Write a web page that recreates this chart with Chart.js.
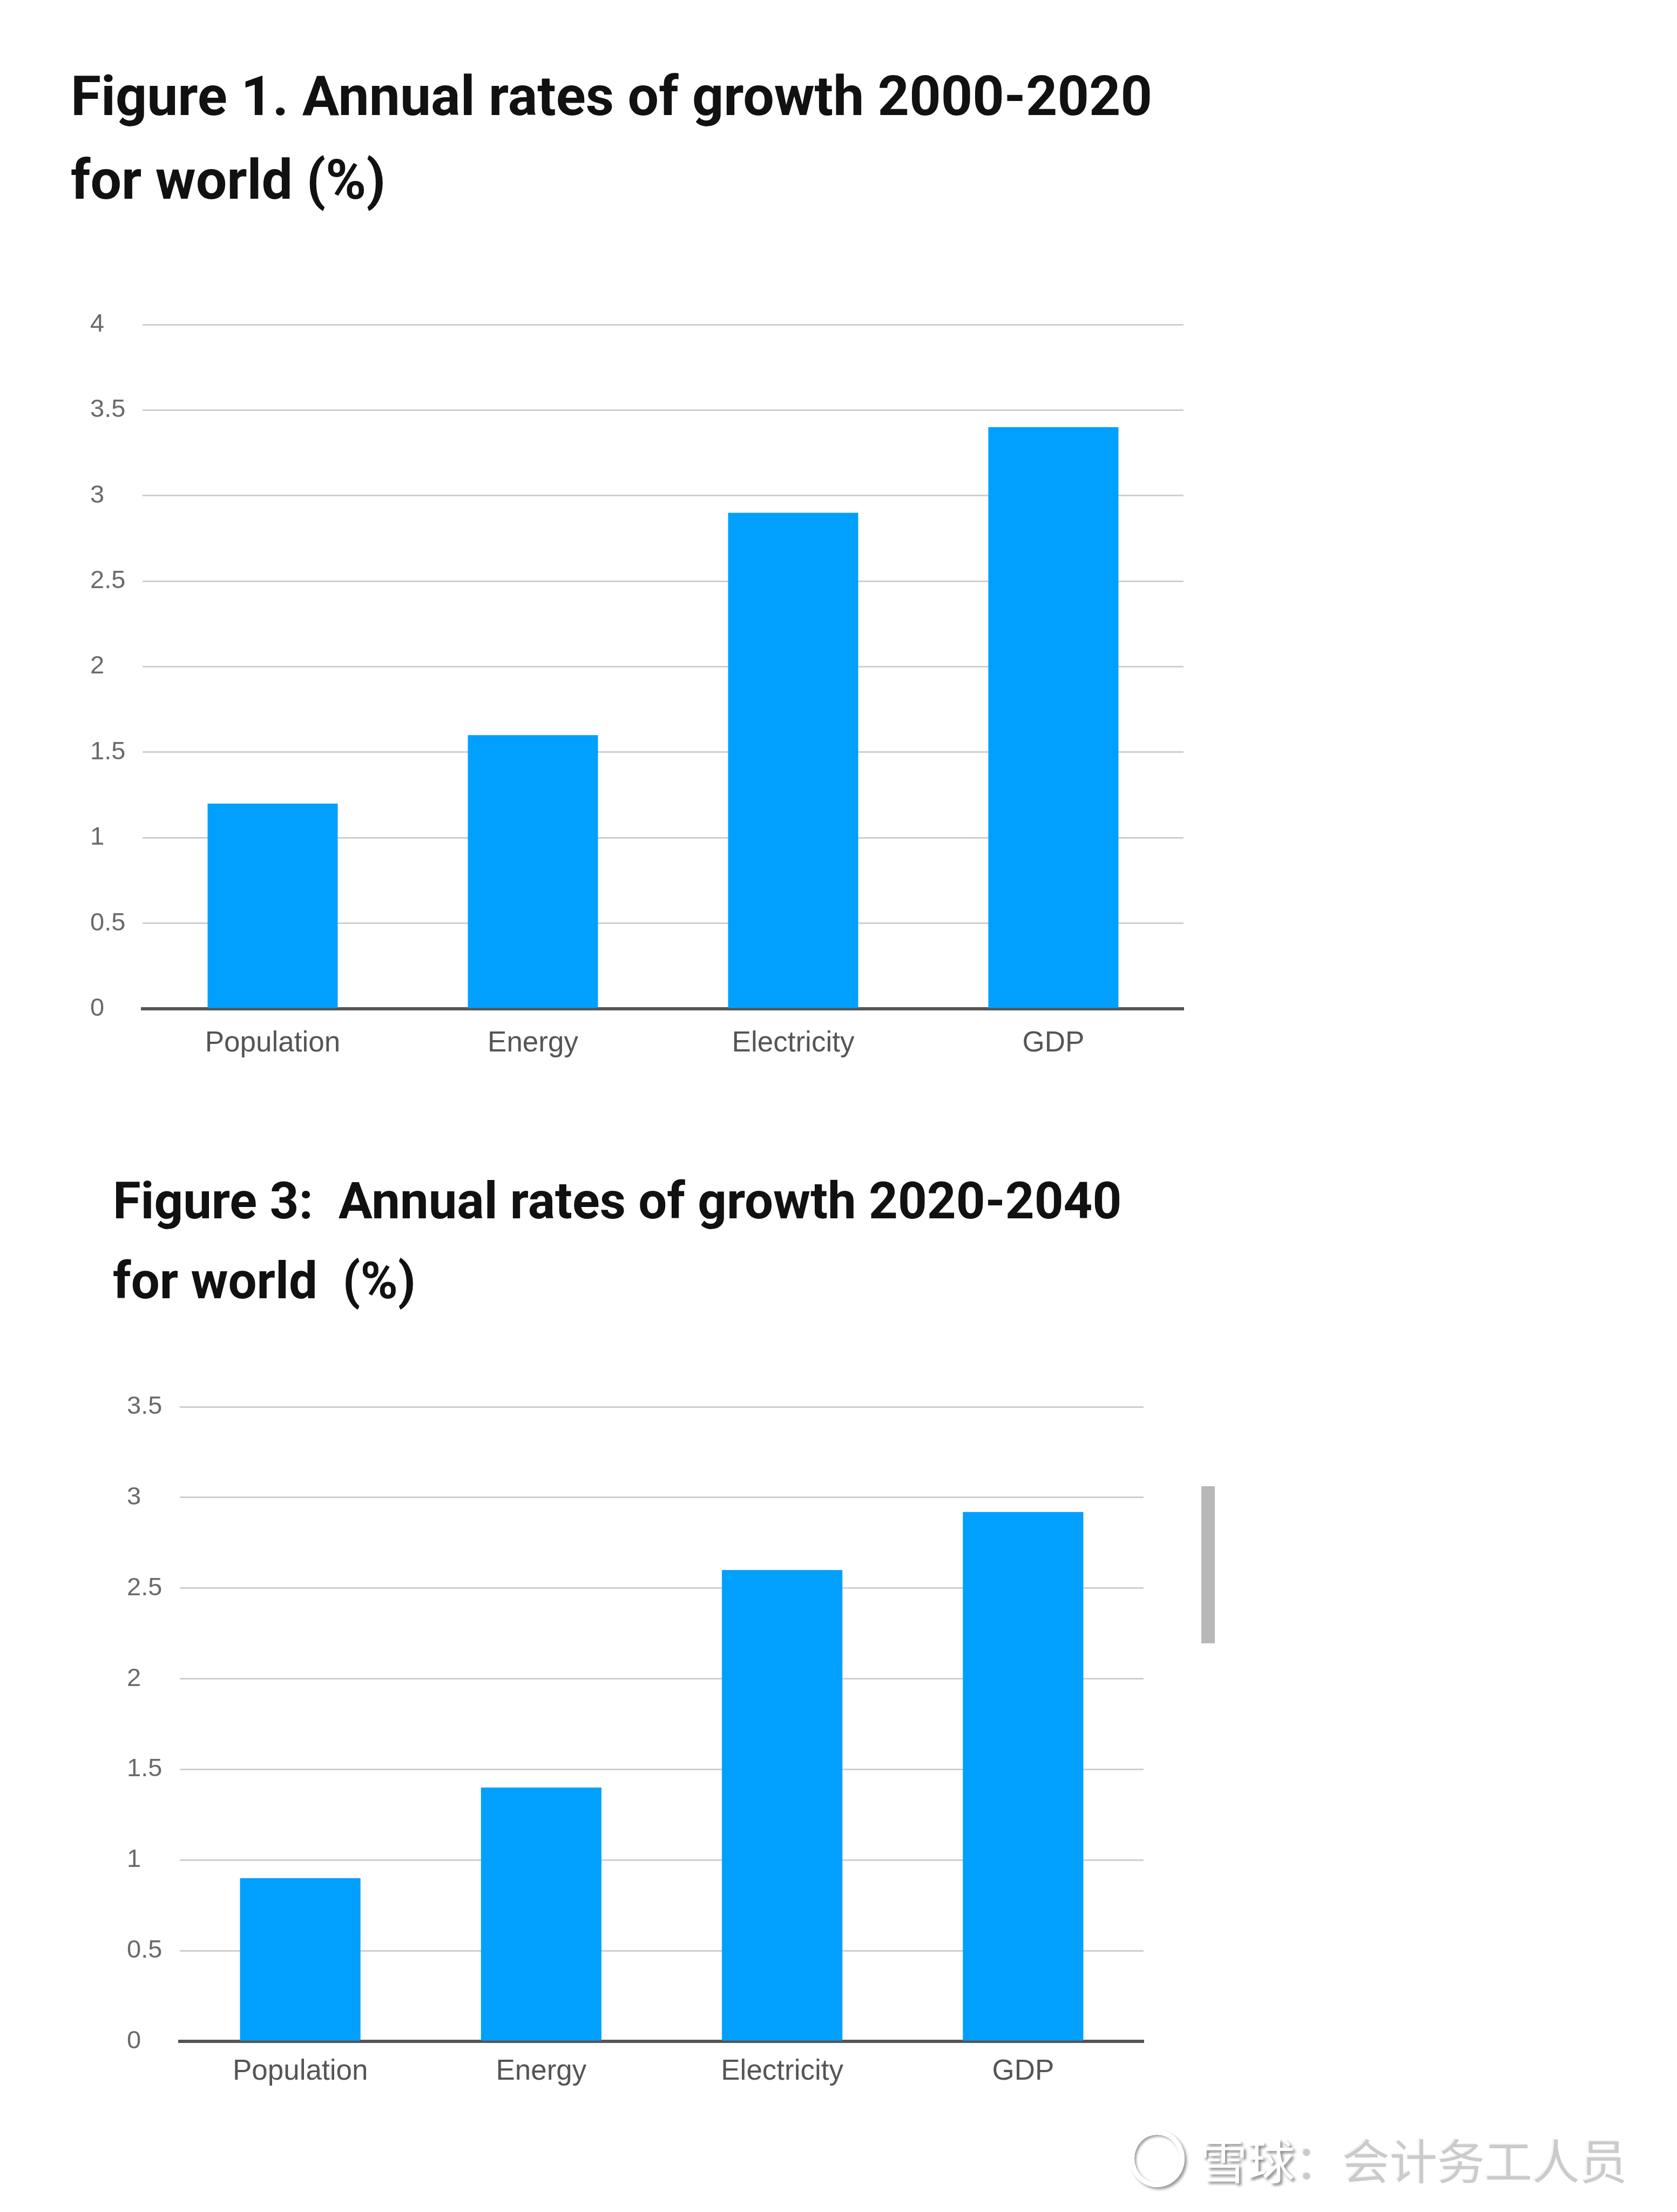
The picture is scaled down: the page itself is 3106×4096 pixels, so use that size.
<!DOCTYPE html>
<html>
<head>
<meta charset="utf-8">
<script src="https://cdn.jsdelivr.net/npm/chart.js@4.4.1/dist/chart.umd.min.js"></script>
<style>
  html, body { margin: 0; padding: 0; background: #fff; }
  #page { position: relative; width: 3106px; height: 4096px; overflow: hidden; background: #fff; }
  .title {
    position: absolute;
    font-family: Roboto, "Liberation Sans", sans-serif;
    font-weight: 700;
    color: #111;
    white-space: pre;
    margin: 0;
  }
  #title1 { left: 131px; top: 101px; font-size: 102px; line-height: 155px; }
  #title2 { left: 209px; top: 2150px; font-size: 94px; line-height: 148px; }
  canvas { position: absolute; }
  #chart1 { left: 150px; top: 540px; }
  #chart2 { left: 200px; top: 2540px; }
  #scrollbar { position: absolute; left: 2225px; top: 2752px; width: 25px; height: 291px; background: #b8b8b8; }
  #logo {
    position: absolute; left: 2092px; top: 3944px; width: 84px; height: 88px;
    border: 9px solid #fff; border-radius: 50%;
    box-shadow: 4px 4px 5px #9a9a9a, inset 3px 3px 4px #9a9a9a;
  }
  #mark {
    position: absolute; left: 2222px; top: 3953px;
    font-family: "Noto Sans CJK SC", sans-serif; font-size: 88px; line-height: 1;
    white-space: pre;
  }
  #mark .xq { color: #fff; text-shadow: 4px 4px 5px #8a8a8a; }
  #mark .rest { color: #cbcbcb; text-shadow: -3px -2px 2px #f4f4f4; }
</style>
</head>
<body>
<div id="page">
  <div class="title" id="title1">Figure 1. Annual rates of growth 2000-2020
for world (%)</div>
  <canvas id="chart1" width="2100" height="1460"></canvas>

  <div class="title" id="title2">Figure 3:  Annual rates of growth 2020-2040
for world  (%)</div>
  <canvas id="chart2" width="1990" height="1360"></canvas>

  <div id="scrollbar"></div>
  <div id="logo"></div>
  <div id="mark"><span class="xq">雪球</span><span class="rest">：会计务工人员</span></div>
</div>

<script>
// shared categories
const categories = ["Population", "Energy", "Electricity", "GDP"];

// Figure 1: 2000-2020
const growth2000to2020 = [1.2, 1.6, 2.9, 3.4];
const yTicks1 = ["0", "0.5", "1", "1.5", "2", "2.5", "3", "3.5", "4"];

// Figure 3: 2020-2040
const growth2020to2040 = [0.9, 1.4, 2.6, 2.92];
const yTicks2 = ["0", "0.5", "1", "1.5", "2", "2.5", "3", "3.5"];

Chart.defaults.animation = false;

const BAR_COLOR = "#02a0fe";

function buildChart(canvasId, values, tickLabels, layout) {
    const ctx = document.getElementById(canvasId).getContext("2d");
    return new Chart(ctx, {
        type: "bar",
        data: {
            labels: categories,
            datasets: [
                {
                    data: values,
                    backgroundColor: BAR_COLOR,
                    borderWidth: 0,
                    categoryPercentage: 1,
                    barPercentage: 0.5,
                },
            ],
        },
        options: {
            responsive: false,
            animation: false,
            layout: {
                padding: { left: layout.padLeft, top: layout.padTop, right: layout.padRight, bottom: 0 },
            },
            plugins: {
                legend: { display: false },
                tooltip: { enabled: false },
            },
            scales: {
                x: {
                    grid: { display: false, drawTicks: false },
                    border: { display: true, color: "#555555", width: 6 },
                    ticks: {
                        color: "#555555",
                        font: { family: "'Liberation Sans', Arial, sans-serif", size: 53 },
                        padding: layout.labelPad,
                        maxRotation: 0,
                        autoSkip: false,
                    },
                    afterFit: (scale) => { scale.height = layout.xAxisH; },
                },
                y: {
                    min: 0,
                    max: (tickLabels.length - 1) * 0.5,
                    grid: { color: "#cfcfcf", lineWidth: 3, drawTicks: false },
                    border: { display: false },
                    ticks: {
                        stepSize: 0.5,
                        color: "#6a6a6a",
                        crossAlign: "far",
                        padding: 0,
                        font: { family: "'Liberation Sans', Arial, sans-serif", size: 47 },
                        callback: (value, index) => tickLabels[index],
                    },
                    afterFit: (scale) => { scale.width = layout.axisW; },
                },
            },
        },
    });
}

buildChart("chart1", growth2000to2020, yTicks1, {
    padLeft: 17, axisW: 97, padTop: 61, padRight: 58, xAxisH: 132, labelPad: 33,
});

buildChart("chart2", growth2020to2040, yTicks2, {
    padLeft: 35, axisW: 98, padTop: 65, padRight: 72, xAxisH: 120, labelPad: 25,
});
</script>
</body>
</html>
